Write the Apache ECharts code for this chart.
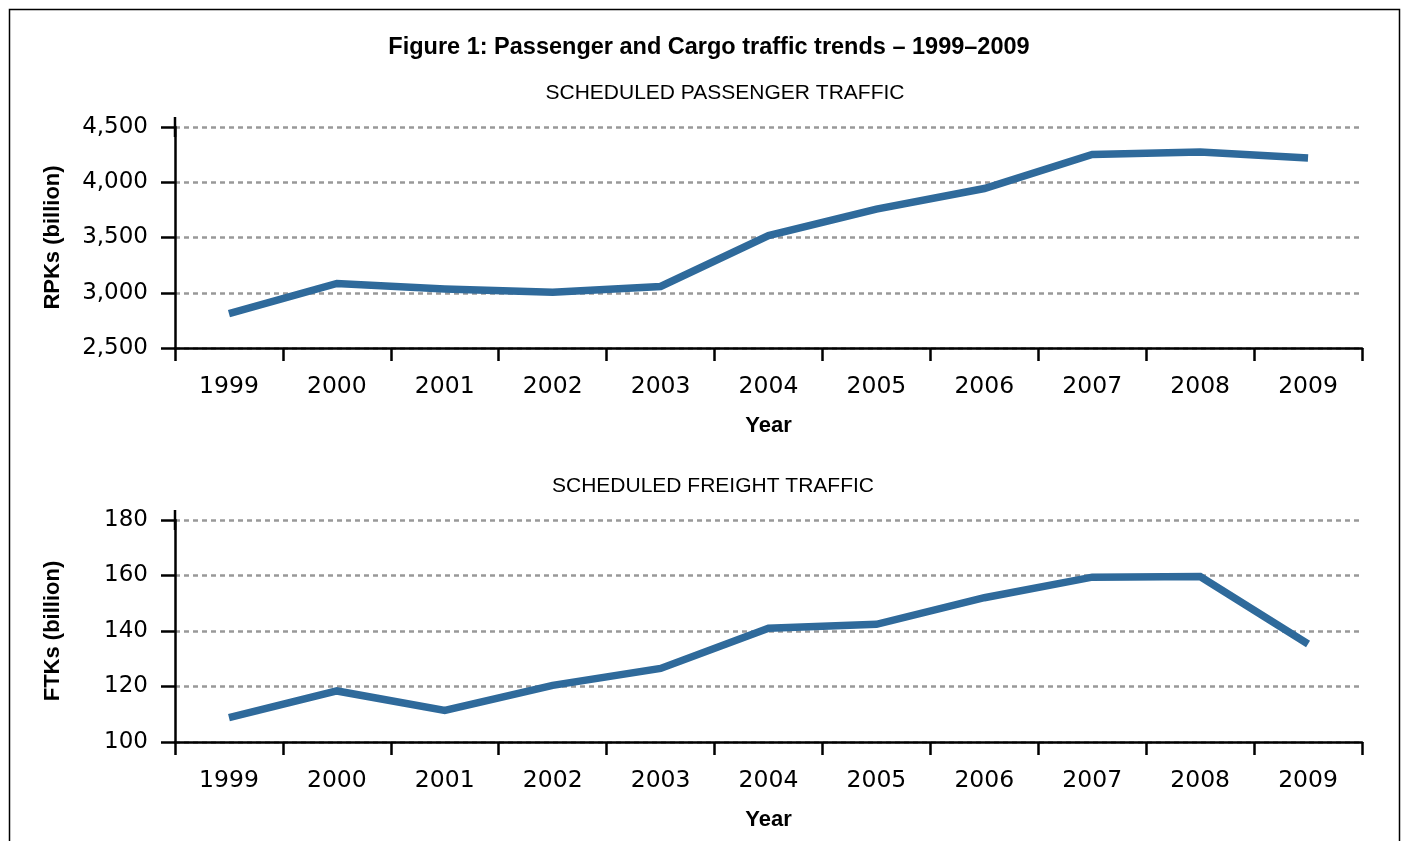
<!DOCTYPE html>
<html>
<head>
<meta charset="utf-8">
<script src="https://cdn.jsdelivr.net/npm/echarts@6/dist/echarts.min.js"></script>
<style>
html,body{margin:0;padding:0;background:#fff;}
#c{width:1404px;height:841px;}
</style>
</head>
<body>
<div id="c"></div>
<script>
const years = ['1999','2000','2001','2002','2003','2004','2005','2006','2007','2008','2009'];
const rpks = [2812, 3084, 3034, 3004, 3057, 3518, 3757, 3943, 4251, 4274, 4220];
const ftks = [108.8, 118.4, 111.4, 120.4, 126.5, 141.0, 142.4, 152.0, 159.4, 159.6, 135.3];
const rpkTicks = {min: 2500, max: 4500, interval: 500};
const ftkTicks = {min: 100, max: 180, interval: 20};

const tickFont = 'DejaVu Sans';
const boldFont = 'Liberation Sans';
const lineColor = '#2f6a9b';

function xAxisCfg(gridIndex) {
  return {
    type: 'category', gridIndex: gridIndex, data: years, boundaryGap: true,
    name: 'Year', nameLocation: 'middle', nameGap: 67,
    nameTextStyle: {fontFamily: boldFont, fontWeight: 'bold', fontSize: 22, color: '#000'},
    axisLine: {lineStyle: {color: '#000', width: 2.5}},
    axisTick: {show: true, length: 13, lineStyle: {color: '#000', width: 2.5}, alignWithLabel: false},
    axisLabel: {fontFamily: tickFont, fontSize: 23.5, color: '#000', margin: 27},
    splitLine: {show: false}
  };
}
function yAxisCfg(gridIndex, name, t, fmt) {
  return {
    type: 'value', gridIndex: gridIndex, min: t.min, max: t.max, interval: t.interval,
    name: name, nameLocation: 'middle', nameGap: 111, nameRotate: 90,
    nameTextStyle: {fontFamily: boldFont, fontWeight: 'bold', fontSize: 22, color: '#000'},
    axisLine: {show: true, symbol: ['none', 'rect'], symbolSize: [2.5, 20],
      lineStyle: {color: '#000', width: 2.5}},
    axisTick: {show: true, length: 14, lineStyle: {color: '#000', width: 2.5}},
    axisLabel: {fontFamily: tickFont, fontSize: 23, color: '#000', margin: 27, formatter: fmt},
    splitLine: {show: true, lineStyle: {color: '#999999', width: 2.5, type: [5, 4]}}
  };
}

const chart = echarts.init(document.getElementById('c'), null, {renderer: 'canvas'});
chart.setOption({
  animation: false,
  backgroundColor: '#fff',
  title: [
    {text: 'Figure 1: Passenger and Cargo traffic trends – 1999–2009', left: 704, textAlign: 'center', top: 31,
      textStyle: {fontFamily: boldFont, fontWeight: 'bold', fontSize: 23.5, color: '#000'}},
    {text: 'SCHEDULED PASSENGER TRAFFIC', left: 720, textAlign: 'center', top: 78,
      textStyle: {fontFamily: 'Liberation Sans Narrow, Liberation Sans', fontWeight: 'normal', fontSize: 21, color: '#000'}},
    {text: 'SCHEDULED FREIGHT TRAFFIC', left: 708, textAlign: 'center', top: 471,
      textStyle: {fontFamily: 'Liberation Sans Narrow, Liberation Sans', fontWeight: 'normal', fontSize: 21, color: '#000'}}
  ],
  graphic: [{
    type: 'rect', shape: {x: 9.5, y: 9.5, width: 1390, height: 900},
    style: {fill: 'none', stroke: '#000', lineWidth: 1.5}, silent: true
  }],
  grid: [
    {left: 175, right: 42, top: 127, height: 221},
    {left: 175, right: 42, top: 520, height: 222}
  ],
  xAxis: [xAxisCfg(0), xAxisCfg(1)],
  yAxis: [
    yAxisCfg(0, 'RPKs (billion)', rpkTicks, function (v) { return v.toLocaleString('en-US'); }),
    yAxisCfg(1, 'FTKs (billion)', ftkTicks, function (v) { return String(v); })
  ],
  series: [
    {type: 'line', xAxisIndex: 0, yAxisIndex: 0, data: rpks, symbol: 'none',
      lineStyle: {color: lineColor, width: 7.5, cap: 'butt', join: 'miter'}},
    {type: 'line', xAxisIndex: 1, yAxisIndex: 1, data: ftks, symbol: 'none',
      lineStyle: {color: lineColor, width: 7.5, cap: 'butt', join: 'miter'}}
  ]
});
</script>
</body>
</html>
